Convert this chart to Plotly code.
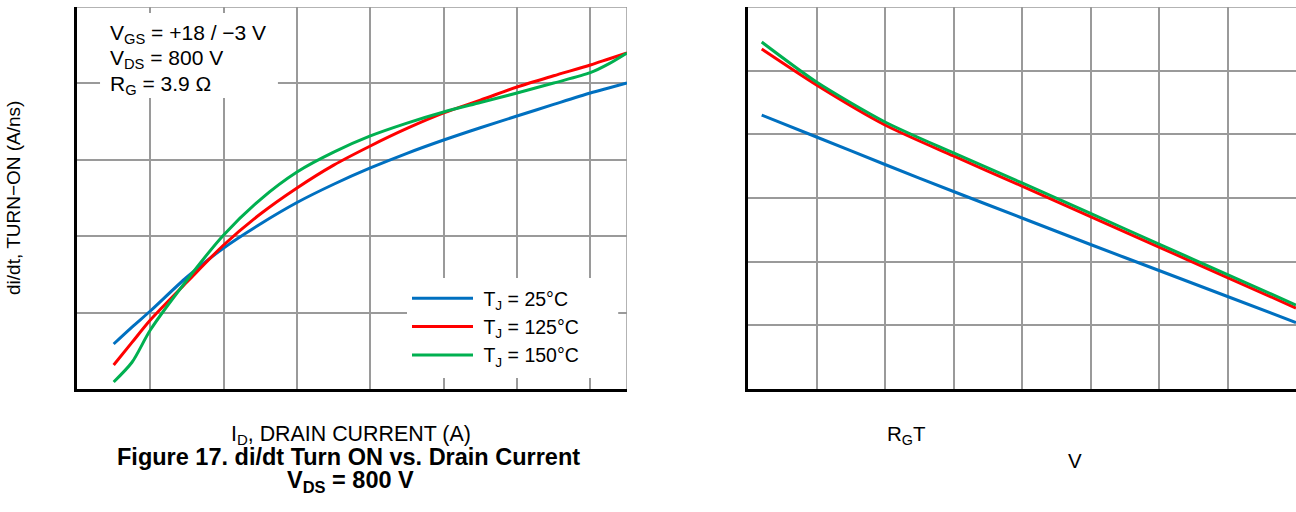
import plotly.graph_objects as go

# ---------------- data ----------------
# Left panel: di/dt turn-on vs drain current
drain_current = [5, 7.5, 10, 15, 20, 25, 30, 35, 40, 45, 50, 55, 60, 65, 70, 72.5, 75]
didt_25 = [0.589, 0.81, 1.021, 1.466, 1.846, 2.16, 2.441, 2.68, 2.893, 3.085, 3.259, 3.42, 3.573, 3.725, 3.874, 3.94, 4.005]
didt_125 = [0.314, 0.61, 0.903, 1.401, 1.885, 2.29, 2.631, 2.93, 3.181, 3.41, 3.613, 3.78, 3.953, 4.10, 4.241, 4.32, 4.398]
didt_150 = [0.092, 0.35, 0.772, 1.427, 2.016, 2.48, 2.840, 3.10, 3.312, 3.48, 3.626, 3.75, 3.874, 4.005, 4.14, 4.255, 4.398]

# Right panel: di/dt turn-on vs gate resistance
gate_res = [0.2, 1, 2, 3, 4, 5, 6, 7, 8]
rg_25 = [4.303, 3.958, 3.526, 3.102, 2.686, 2.270, 1.861, 1.453, 1.044]
rg_125 = [5.340, 4.775, 4.147, 3.660, 3.188, 2.709, 2.230, 1.751, 1.272]
rg_150 = [5.450, 4.822, 4.194, 3.707, 3.236, 2.757, 2.277, 1.798, 1.319]

series_names = ["\u00a0T<sub>J</sub> = 25°C", "\u00a0T<sub>J</sub> = 125°C", "\u00a0T<sub>J</sub> = 150°C"]
series_colors = ["#0070C0", "#FF0000", "#00B050"]

conditions_lines = ["V<sub>GS</sub> = +18 / −3 V", "V<sub>DS</sub> = 800 V", "R<sub>G</sub> = 3.9 Ω"]
x_title_left = "I<sub>D</sub>, DRAIN CURRENT (A)"
y_title_left = "di/dt, TURN−ON (A/ns)"
fig_title_1 = "<b>Figure 17. di/dt Turn ON vs. Drain Current</b>"
fig_title_2 = "<b>V<sub>DS</sub> = 800 V</b>"
right_label_1 = "R<sub>G</sub>T"
right_label_2 = "V"

# ---------------- layout geometry ----------------
W, H = 1296, 512
FONT = "Liberation Sans, Arial, Helvetica, sans-serif"
GRID = "#9a9a9a"

def px(x):
    return x / W

def py(y):
    return 1 - y / H

fig = go.Figure()

left_sets = [didt_25, didt_125, didt_150]
for name, col, ys in zip(series_names, series_colors, left_sets):
    fig.add_trace(go.Scatter(x=drain_current, y=ys, mode="lines", name=name,
                             line=dict(color=col, width=3, shape="spline", smoothing=0.8),
                             xaxis="x", yaxis="y", legendgroup=name))

right_sets = [rg_25, rg_125, rg_150]
for name, col, ys in zip(series_names, series_colors, right_sets):
    fig.add_trace(go.Scatter(x=gate_res, y=ys, mode="lines", name=name, showlegend=False,
                             line=dict(color=col, width=3, shape="spline", smoothing=0.7),
                             xaxis="x2", yaxis="y2", legendgroup=name))

axis_common = dict(showticklabels=False, ticks="", zeroline=False, showgrid=True,
                   gridcolor=GRID, gridwidth=1.5, showline=True, linecolor="black",
                   linewidth=3, fixedrange=True)

fig.update_layout(
    width=W, height=H,
    margin=dict(l=0, r=0, t=0, b=0),
    paper_bgcolor="white", plot_bgcolor="white",
    font=dict(family=FONT, color="black", size=20),
    xaxis=dict(domain=[px(77), px(627)], range=[0, 75], dtick=10, tick0=0, anchor="y", **axis_common),
    yaxis=dict(domain=[py(389), py(7)], range=[0, 5], dtick=1, tick0=0, anchor="x", **axis_common),
    xaxis2=dict(domain=[px(748), 1.0], range=[0, 8], dtick=1, tick0=0, anchor="y2", **axis_common),
    yaxis2=dict(domain=[py(389), py(7)], range=[0, 6], dtick=1, tick0=0, anchor="x2", **axis_common),
    showlegend=True,
    legend=dict(x=px(407), y=py(279), xanchor="left", yanchor="top",
                bgcolor="rgba(0,0,0,0)", borderwidth=0, itemwidth=61,
                font=dict(family=FONT, size=19.5), tracegroupgap=0,
                traceorder="normal"),
)

shapes = [
    # white box behind the conditions text (above grid, below traces)
    dict(type="rect", xref="x", yref="y", x0=3.14, x1=27.4, y0=3.81, y1=4.92,
         fillcolor="white", line=dict(width=0), layer="between"),
    # white box behind legend
    dict(type="rect", xref="x", yref="y", x0=45.0, x1=73.8, y0=0.144, y1=1.453,
         fillcolor="white", line=dict(width=0), layer="between"),
    # gray top and right borders of the left panel
    dict(type="line", xref="x", yref="y", x0=0, x1=75, y0=5, y1=5,
         line=dict(color=GRID, width=1.5), layer="between"),
    dict(type="line", xref="x", yref="y", x0=75, x1=75, y0=0, y1=5,
         line=dict(color=GRID, width=1.5), layer="between"),
    # gray top border of the right panel
    dict(type="line", xref="x2", yref="y2", x0=0, x1=8, y0=6, y1=6,
         line=dict(color=GRID, width=1.5), layer="between"),
]
fig.update_layout(shapes=shapes)

ann = [
    dict(text=conditions_lines[0], x=px(108), y=py(34), xanchor="left", yanchor="middle",
         align="left", font=dict(size=21)),
    dict(text=conditions_lines[1], x=px(108), y=py(59), xanchor="left", yanchor="middle",
         align="left", font=dict(size=21)),
    dict(text=conditions_lines[2], x=px(108), y=py(85), xanchor="left", yanchor="middle",
         align="left", font=dict(size=21)),
    dict(text=x_title_left, x=px(351), y=py(435), xanchor="center", yanchor="middle",
         font=dict(size=21.4)),
    dict(text=fig_title_1, x=px(348), y=py(457), xanchor="center", yanchor="middle",
         font=dict(size=23.5)),
    dict(text=fig_title_2, x=px(350), y=py(481), xanchor="center", yanchor="middle",
         font=dict(size=23.5)),
    dict(text=y_title_left, x=px(13), y=py(198), xanchor="center", yanchor="middle",
         textangle=-90, font=dict(size=19)),
    dict(text=right_label_1, x=px(885), y=py(435), xanchor="left", yanchor="middle",
         font=dict(size=20.5)),
    dict(text=right_label_2, x=px(1075), y=py(460), xanchor="center", yanchor="middle",
         font=dict(size=20.5)),
]
for a in ann:
    a.update(xref="paper", yref="paper", showarrow=False)
fig.update_layout(annotations=ann)

fig.write_html("out.html", config={"displayModeBar": False},
               post_script="document.body.style.margin='0';document.body.style.overflow='hidden';")
